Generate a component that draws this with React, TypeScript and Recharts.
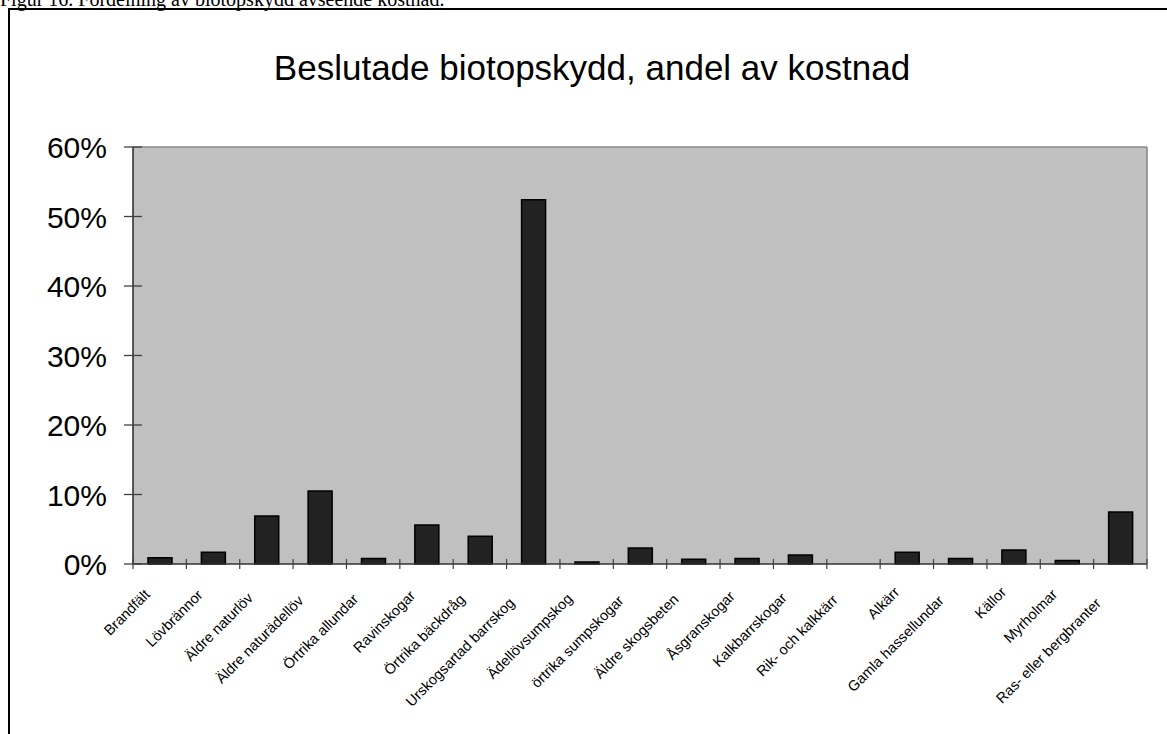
import React from "react";
import { BarChart, Bar, XAxis, YAxis, CartesianGrid } from "recharts";

const categories = [
  "Brandfält",
  "Lövbrännor",
  "Äldre naturlöv",
  "Äldre naturädellöv",
  "Örtrika allundar",
  "Ravinskogar",
  "Örtrika bäckdråg",
  "Urskogsartad barrskog",
  "Ädellövsumpskog",
  "örtrika sumpskogar",
  "Äldre skogsbeten",
  "Åsgranskogar",
  "Kalkbarrskogar",
  "Rik- och kalkkärr",
  "Alkärr",
  "Gamla hassellundar",
  "Källor",
  "Myrholmar",
  "Ras- eller bergbranter",
];

// andel av kostnad, procent
const shares = [0.9, 1.7, 6.9, 10.5, 0.8, 5.6, 4.0, 52.4, 0.3, 2.3, 0.7, 0.8, 1.3, 0, 1.7, 0.8, 2.0, 0.5, 7.5];

const yTicks = [0, 10, 20, 30, 40, 50, 60];

const title = "Beslutade biotopskydd, andel av kostnad";
const caption = "Figur 16. Fördelning av biotopskydd avseende kostnad.";

const data = categories.map((name, i) => ({ name, share: shares[i] }));

const W = 1167;
const H = 734;
const LEFT = 133;
const RIGHT = 1147;
const TOP = 147;
const BOTTOM = 564;
const halfBand = (RIGHT - LEFT) / categories.length / 2;

const YTick = (props: any) => {
  const { y, payload } = props;
  return (
    <g>
      <line x1={LEFT - 9} x2={LEFT + 9} y1={y} y2={y} stroke="#404040" strokeWidth={1.3} />
      <text
        x={107}
        y={y + 11}
        textAnchor="end"
        fontFamily="'Liberation Sans', Arial, sans-serif"
        fontSize={30}
        fill="#000"
      >
        {payload.value}%
      </text>
    </g>
  );
};

const XTick = (props: any) => {
  const { x, payload, index } = props;
  const label: string = payload.value;
  const n = label.length;
  const ex = x - 2 - 0.75 * n;
  const ey = 589 + 0.7 * n;
  return (
    <g>
      <line x1={x + halfBand} x2={x + halfBand} y1={BOTTOM - 5} y2={BOTTOM + 5} stroke="#404040" strokeWidth={1.2} />
      {index === 0 && (
        <line x1={x - halfBand} x2={x - halfBand} y1={BOTTOM - 5} y2={BOTTOM + 5} stroke="#404040" strokeWidth={1.2} />
      )}
      <text
        transform={`translate(${ex},${ey}) rotate(-45)`}
        textAnchor="end"
        fontFamily="'Liberation Sans', Arial, sans-serif"
        fontSize={14.5}
        fill="#000"
      >
        {label}
      </text>
    </g>
  );
};

export default function App() {
  return (
    <div
      style={{
        position: "absolute",
        left: 0,
        top: 0,
        width: W,
        height: H,
        overflow: "hidden",
        background: "#fff",
      }}
    >
      <BarChart
        width={W}
        height={H}
        data={data}
        margin={{ top: TOP - 2, right: W - RIGHT - 2, bottom: H - BOTTOM - 40, left: LEFT - 60 }}
        barSize={24}
        style={{ position: "absolute", left: 0, top: 0 }}
      >
        <CartesianGrid fill="#c0c0c0" horizontal={false} vertical={false} />
        <XAxis
          dataKey="name"
          interval={0}
          height={40}
          tickSize={0}
          tickMargin={0}
          tickLine={false}
          axisLine={{ stroke: "#333", strokeWidth: 1.4 }}
          tick={<XTick />}
        />
        <XAxis
          xAxisId="top"
          orientation="top"
          dataKey="name"
          height={2}
          tick={false}
          tickLine={false}
          axisLine={{ stroke: "#8a8a8a", strokeWidth: 1.4 }}
        />
        <YAxis
          domain={[0, 60]}
          ticks={yTicks}
          width={60}
          tickSize={0}
          tickMargin={0}
          tickLine={false}
          axisLine={{ stroke: "#333", strokeWidth: 1.6 }}
          tick={<YTick />}
        />
        <YAxis
          yAxisId="right"
          orientation="right"
          domain={[0, 60]}
          width={2}
          tick={false}
          tickLine={false}
          axisLine={{ stroke: "#8a8a8a", strokeWidth: 1.6 }}
        />
        <Bar dataKey="share" fill="#222222" stroke="#000" strokeWidth={1.5} isAnimationActive={false} />
      </BarChart>
      <svg
        width={W}
        height={H}
        style={{ position: "absolute", left: 0, top: 0, pointerEvents: "none" }}
      >
        <text x={0} y={6} fontFamily="'Liberation Serif', 'Times New Roman', serif" fontSize={20} fill="#000">
          {caption}
        </text>
        <rect x={9} y={9} width={1300} height={900} fill="none" stroke="#000" strokeWidth={2} />
        <text
          x={592}
          y={80}
          textAnchor="middle"
          fontFamily="'Liberation Sans', Arial, sans-serif"
          fontSize={35}
          fill="#000"
        >
          {title}
        </text>
      </svg>
    </div>
  );
}
